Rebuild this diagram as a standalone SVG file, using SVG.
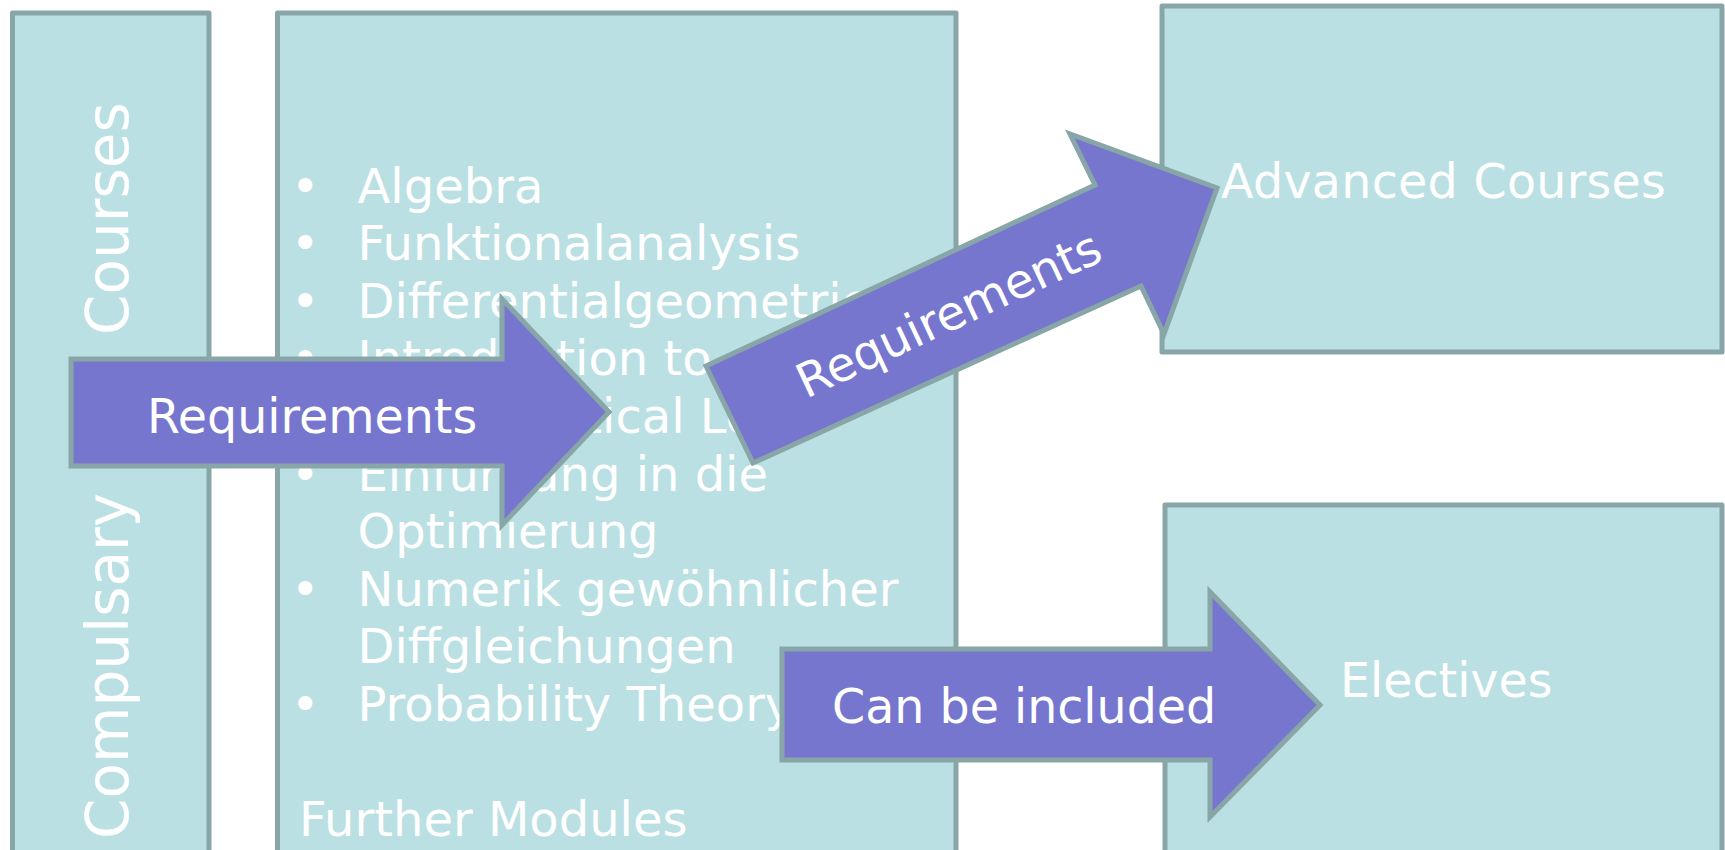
<svg xmlns="http://www.w3.org/2000/svg" width="1725" height="850" viewBox="0 0 1725 850">
<style>
.box{fill:#bbe0e3;stroke:#88a5a7;stroke-width:5;stroke-linejoin:round}
.arrow{fill:#7676cf;stroke:#88a5a7;stroke-width:5;stroke-linejoin:miter}
.t{font-family:"DejaVu Sans","Verdana",sans-serif;font-size:47.5px;fill:#ffffff}
.l{font-family:"DejaVu Sans","Verdana",sans-serif;font-size:48px;fill:#ffffff}
.v{font-family:"DejaVu Sans","Verdana",sans-serif;font-size:58px;fill:#ffffff}
</style>
<rect width="1725" height="850" fill="#ffffff"/>
<g id="compulsary">
<rect class="box" x="12.5" y="13" width="196.5" height="850"/>
<text class="v" transform="translate(128,839) rotate(-90)">Compulsary</text>
<text class="v" transform="translate(128,335) rotate(-90)">Courses</text>
</g>
<g id="further-modules">
<rect class="box" x="277.5" y="13" width="678.5" height="850"/>
<g class="l">
<text x="291" y="202.7">•</text><text x="357.5" y="202.7">Algebra</text>
<text x="291" y="260.3">•</text><text x="357.5" y="260.3">Funktionalanalysis</text>
<text x="291" y="317.8">•</text><text x="357.5" y="317.8">Differentialgeometrie</text>
<text x="291" y="375.4">•</text><text x="357.5" y="375.4">Introduction to</text>
<text x="357.5" y="433">Mathematical Logic</text>
<text x="291" y="490.5">•</text><text x="357.5" y="490.5">Einführung in die</text>
<text x="357.5" y="548">Optimierung</text>
<text x="291" y="605.6">•</text><text x="357.5" y="605.6">Numerik gewöhnlicher</text>
<text x="357.5" y="663.2">Diffgleichungen</text>
<text x="291" y="720.7">•</text><text x="357.5" y="720.7">Probability Theory</text>
<text x="299" y="836">Further Modules</text>
</g>
</g>
<g id="advanced-courses">
<rect class="box" x="1162" y="6" width="560" height="346"/>
<text class="t" x="1221" y="198" letter-spacing="0.3">Advanced Courses</text>
</g>
<g id="electives">
<rect class="box" x="1165" y="505" width="557" height="360"/>
<text class="t" x="1340" y="697">Electives</text>
</g>
<g id="connectors">
<g id="arrow-requirements-1">
<polygon class="arrow" points="71,359 502,359 502,299 609,412 502,525 502,466 71,466"/>
<text class="t" x="147" y="433">Requirements</text>
</g>
<g id="arrow-requirements-2">
<polygon class="arrow" points="706,366 1095,185 1070,134 1217,188 1164,334 1141,286 753,463"/>
<text class="t" transform="translate(806,399) rotate(-25)">Requirements</text>
</g>
<g id="arrow-can-be-included">
<polygon class="arrow" points="782,649 1210,649 1210,592 1320,705 1210,817 1210,760 782,760"/>
<text class="t" x="832" y="723">Can be included</text>
</g>
</g>
</svg>
